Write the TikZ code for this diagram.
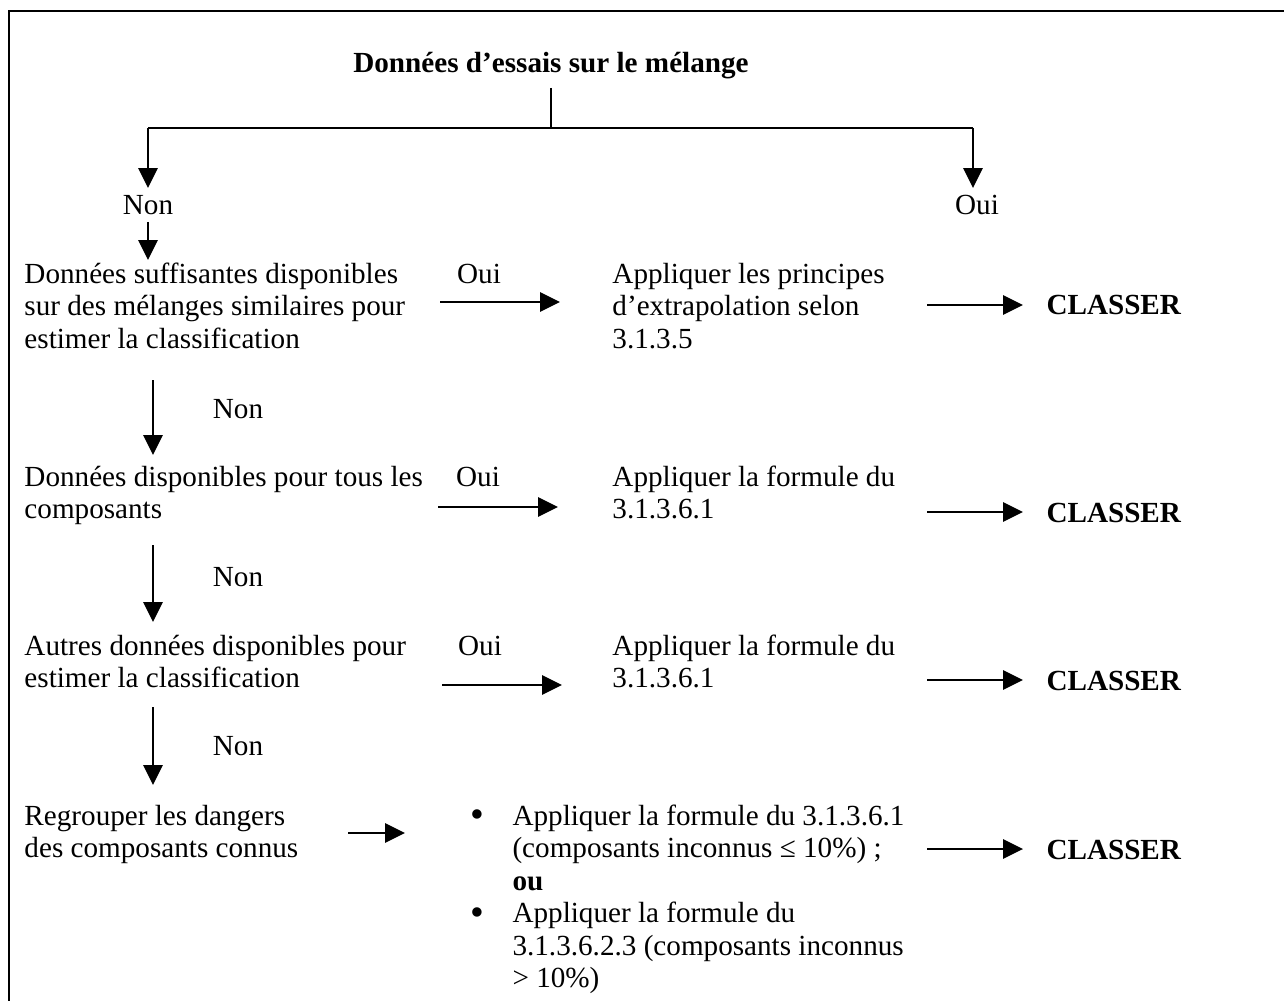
\documentclass[tikz,border=0pt]{standalone}
\usepackage{fontspec}
\setmainfont{Liberation Serif}
\usetikzlibrary{arrows.meta}
\newcommand{\mlines}[1]{\begin{tabular}[t]{@{}l@{}}#1\end{tabular}}
\newcommand{\blt}{\makebox[17.3pt][l]{\raisebox{-1.1pt}{\scalebox{1.35}{•}}}}
\begin{document}
\begin{tikzpicture}[x=0.4115pt, y=-0.4115pt,
  txt/.style={inner sep=0pt, font=\fontsize{12}{13.4}\selectfont},
  bold/.style={inner sep=0pt, font=\fontsize{12}{13.4}\selectfont\bfseries},
  lab/.style={txt, anchor=base},
  blk/.style={txt, anchor=base west},
  conn/.style={line width=0.55pt},
  arr/.style={conn, -{Triangle[length=8.2pt,width=8pt]}},
]
\useasboundingbox (0,0) rectangle (1284,1001);
\clip (0,0) rectangle (1284,1001);
\draw[line width=0.85pt] (9,11) rectangle (1330,1040);

% title and first split
\node[bold, anchor=base] (title) at (551,73) {Données d’essais sur le mélange};
\coordinate (tTop) at (551,88);
\coordinate (split) at (551,128);
\coordinate (tL) at (148,128);
\coordinate (tR) at (973,128);
\coordinate (tipL) at (148,188);
\coordinate (tipR) at (973,188);
\draw[conn] (tTop) -- (split);
\draw[line width=0.9pt] (tL) -- (tR);
\draw[arr] (tL) -- (tipL);
\draw[arr] (tR) -- (tipR);
\node[lab] (non0) at (148,215) {Non};
\node[lab] (oui0) at (977,215) {Oui};
\coordinate (n0a) at (148,222);
\coordinate (n0b) at (148,260);
\draw[arr] (n0a) -- (n0b);

% row 1
\node[blk] (q1) at (24,283) {\mlines{Données suffisantes disponibles\\sur des mélanges similaires pour\\estimer la classification}};
\node[lab] (y1) at (479,283) {Oui};
\node[blk] (a1) at (612,283) {\mlines{Appliquer les principes\\d’extrapolation selon\\3.1.3.5}};
\node[bold, anchor=base west] (c1) at (1046,314) {CLASSER};
\coordinate (r1a) at (440,302); \coordinate (r1b) at (560,302);
\coordinate (s1a) at (927,305); \coordinate (s1b) at (1023,305);
\draw[arr] (r1a) -- (r1b);
\draw[arr] (s1a) -- (s1b);
\coordinate (d1a) at (153,380); \coordinate (d1b) at (153,455);
\draw[arr] (d1a) -- (d1b);
\node[lab] (non1) at (238,418) {Non};

% row 2
\node[blk] (q2) at (24,486) {\mlines{Données disponibles pour tous les\\composants}};
\node[lab] (y2) at (478,486) {Oui};
\node[blk] (a2) at (612,486) {\mlines{Appliquer la formule du\\3.1.3.6.1}};
\node[bold, anchor=base west] (c2) at (1046,522) {CLASSER};
\coordinate (r2a) at (438,507); \coordinate (r2b) at (558,507);
\coordinate (s2a) at (927,512); \coordinate (s2b) at (1023,512);
\draw[arr] (r2a) -- (r2b);
\draw[arr] (s2a) -- (s2b);
\coordinate (d2a) at (153,545); \coordinate (d2b) at (153,622);
\draw[arr] (d2a) -- (d2b);
\node[lab] (non2) at (238,586) {Non};

% row 3
\node[blk] (q3) at (24,655) {\mlines{Autres données disponibles pour\\estimer la classification}};
\node[lab] (y3) at (480,655) {Oui};
\node[blk] (a3) at (612,655) {\mlines{Appliquer la formule du\\3.1.3.6.1}};
\node[bold, anchor=base west] (c3) at (1046,690) {CLASSER};
\coordinate (r3a) at (442,685); \coordinate (r3b) at (562,685);
\coordinate (s3a) at (927,680); \coordinate (s3b) at (1023,680);
\draw[arr] (r3a) -- (r3b);
\draw[arr] (s3a) -- (s3b);
\coordinate (d3a) at (153,707); \coordinate (d3b) at (153,785);
\draw[arr] (d3a) -- (d3b);
\node[lab] (non3) at (238,755) {Non};

% row 4
\node[blk] (q4) at (24,825) {\mlines{Regrouper les dangers\\des composants connus}};
\coordinate (r4a) at (348,833); \coordinate (r4b) at (405,833);
\draw[arr] (r4a) -- (r4b);
\node[blk] (a4) at (470,825) {\begin{tabular}[t]{@{}l@{}l@{}}
\blt & Appliquer la formule du 3.1.3.6.1\\
 & (composants inconnus ≤ 10\%) ;\\
 & \textbf{ou}\\
\blt & Appliquer la formule du\\
 & 3.1.3.6.2.3 (composants inconnus\\
 & > 10\%)
\end{tabular}};
\node[bold, anchor=base west] (c4) at (1046,859) {CLASSER};
\coordinate (s4a) at (927,849); \coordinate (s4b) at (1023,849);
\draw[arr] (s4a) -- (s4b);
\end{tikzpicture}
\end{document}
